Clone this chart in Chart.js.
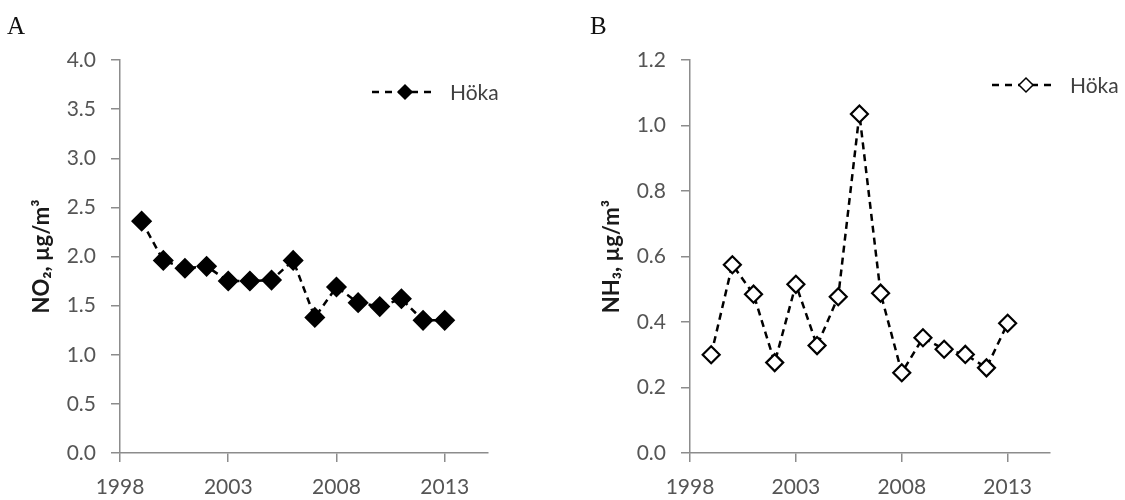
<!DOCTYPE html>
<html>
<head>
<meta charset="utf-8">
<script src="https://cdn.jsdelivr.net/npm/chart.js@4.4.1/dist/chart.umd.min.js"></script>
<style>
  html, body { margin: 0; padding: 0; background: #ffffff; }
  #wrap { position: relative; width: 1125px; height: 500px; background: #fff; overflow: hidden; }
  canvas { position: absolute; top: 0; }
  .panel { position: absolute; top: 13px; font-family: "Liberation Serif", serif; font-size: 25px; line-height: 1; color: #111; }
</style>
</head>
<body>
<div id="wrap">
  <canvas id="cA" width="560" height="500" style="left:0px"></canvas>
  <canvas id="cB" width="565" height="500" style="left:560px"></canvas>
  <div class="panel" style="left:7px">A</div>
  <div class="panel" style="left:590px">B</div>
</div>
<script>
// ---- data ----
const years = [1999, 2000, 2001, 2002, 2003, 2004, 2005, 2006, 2007, 2008, 2009, 2010, 2011, 2012, 2013];
const no2Values = [2.36, 1.96, 1.88, 1.90, 1.75, 1.75, 1.76, 1.96, 1.38, 1.69, 1.53, 1.49, 1.57, 1.35, 1.35];
const nh3Values = [0.30, 0.575, 0.485, 0.276, 0.515, 0.328, 0.477, 1.035, 0.488, 0.245, 0.352, 0.317, 0.301, 0.26, 0.396];
const seriesLabel = "Höka";
const xTickLabels = [1998, 2003, 2008, 2013];
const no2TickLabels = [0.0, 0.5, 1.0, 1.5, 2.0, 2.5, 3.0, 3.5, 4.0];
const nh3TickLabels = [0.0, 0.2, 0.4, 0.6, 0.8, 1.0, 1.2];
const no2Title = "NO₂, µg/m³";
const nh3Title = "NH₃, µg/m³";

const TICK_FONT = { family: "Lato, 'Open Sans', sans-serif", size: 21 };
const TICK_COLOR = "#555555";
const AXIS_COLOR = "#8c8c8c";

const lineLegend = {
  id: 'lineLegend',
  afterDraw(chart, args, o) {
    const ds = chart.data.datasets[0];
    const ctx = chart.ctx;
    ctx.save();
    ctx.strokeStyle = ds.borderColor;
    ctx.lineWidth = ds.borderWidth;
    ctx.setLineDash(o.dash);
    ctx.beginPath();
    ctx.moveTo(o.x1, o.y);
    ctx.lineTo(o.x2, o.y);
    ctx.stroke();
    ctx.setLineDash([]);
    ctx.beginPath();
    ctx.moveTo(o.xm - o.r, o.y);
    ctx.lineTo(o.xm, o.y - o.r);
    ctx.lineTo(o.xm + o.r, o.y);
    ctx.lineTo(o.xm, o.y + o.r);
    ctx.closePath();
    ctx.fillStyle = ds.pointBackgroundColor;
    ctx.fill();
    ctx.lineWidth = o.bw;
    ctx.strokeStyle = ds.pointBorderColor;
    ctx.stroke();
    ctx.fillStyle = "#404040";
    ctx.font = "21px Lato, 'Open Sans', sans-serif";
    ctx.textBaseline = "middle";
    ctx.textAlign = "left";
    ctx.fillText(ds.label, o.tx, o.y + 1);
    ctx.restore();
  }
};

function makeChart(id, values, yTicks, yMax, title, axisWidth, titlePad, filled, radius, legendOpts) {
  const tickSet = (arr) => (scale) => { scale.ticks = arr.map(v => ({ value: v })); };
  return new Chart(document.getElementById(id), {
    type: 'line',
    data: {
      datasets: [{
        label: seriesLabel,
        data: years.map((y, i) => ({ x: y, y: values[i] })),
        borderColor: '#000000',
        borderWidth: 2.5,
        borderDash: [7, 5],
        pointStyle: 'rectRot',
        pointRadius: radius,
        pointBorderWidth: filled ? 1.5 : 2.2,
        pointBackgroundColor: filled ? '#000000' : '#ffffff',
        pointBorderColor: '#000000',
        tension: 0,
        fill: false
      }]
    },
    options: {
      responsive: false,
      animation: false,
      devicePixelRatio: 1,
      layout: { padding: { left: 0, top: 60, right: legendOpts.padRight, bottom: 0 } },
      plugins: {
        legend: { display: false },
        tooltip: { enabled: false },
        lineLegend: legendOpts
      },
      scales: {
        x: {
          type: 'linear',
          min: 1998,
          max: 2015,
          afterBuildTicks: tickSet(xTickLabels),
          afterFit: (s) => { s.height = 47; },
          border: { display: true, color: AXIS_COLOR, width: 1.5 },
          grid: { display: true, drawOnChartArea: false, drawTicks: true, tickLength: 9, color: AXIS_COLOR, lineWidth: 1.5 },
          ticks: { font: TICK_FONT, color: TICK_COLOR, padding: 13, maxRotation: 0, autoSkip: false, callback: (v) => String(v) }
        },
        y: {
          type: 'linear',
          min: 0,
          max: yMax,
          afterBuildTicks: tickSet(yTicks),
          afterFit: (s) => { s.width = axisWidth; },
          border: { display: true, color: AXIS_COLOR, width: 1.5 },
          grid: { display: true, drawOnChartArea: false, drawTicks: true, tickLength: 9, color: AXIS_COLOR, lineWidth: 1.5 },
          ticks: { font: TICK_FONT, color: TICK_COLOR, padding: 15, autoSkip: false, callback: (v) => Number(v).toFixed(1) },
          title: {
            display: true,
            text: title,
            color: '#1a1a1a',
            font: { family: "Lato, 'Open Sans', sans-serif", size: 22, weight: 'bold' },
            padding: { top: titlePad, bottom: 0 }
          }
        }
      }
    },
    plugins: [lineLegend]
  });
}

makeChart('cA', no2Values, no2TickLabels, 4.0, no2Title, 120, 29, true, 9.5,
  { x1: 372, x2: 435, xm: 405, y: 92, r: 7, bw: 1.5, tx: 450, dash: [7, 6], padRight: 72 });
makeChart('cB', nh3Values, nh3TickLabels, 1.2, nh3Title, 130, 39, false, 8.5,
  { x1: 432, x2: 495, xm: 466, y: 85, r: 7, bw: 1.5, tx: 510, dash: [7, 6], padRight: 75 });
</script>
</body>
</html>
